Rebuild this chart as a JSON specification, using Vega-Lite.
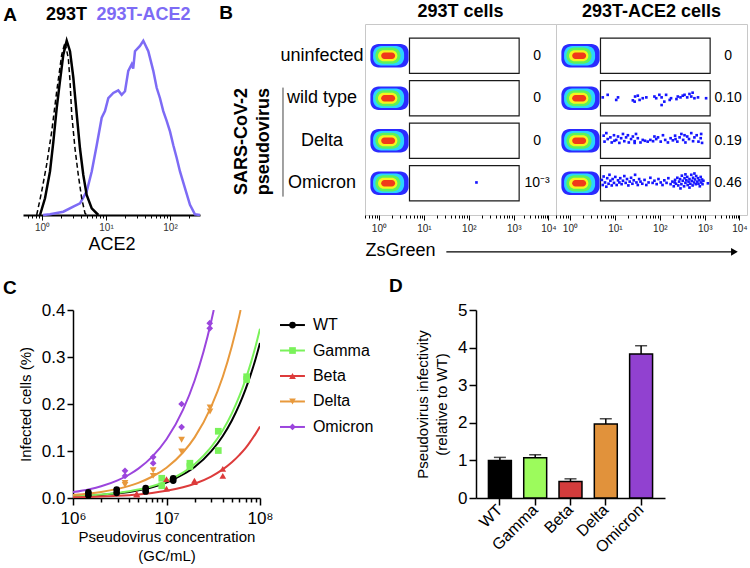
{
"$schema": "https://vega.github.io/schema/vega-lite/v6.json",
"padding": {"left": 3, "top": 2, "right": 2, "bottom": 2},
"config": {
  "font": "Liberation Sans",
  "view": {"stroke": null},
  "axis": {"grid": false, "labelFont": "Liberation Sans", "titleFont": "Liberation Sans", "labelColor": "#000", "titleColor": "#000", "domainColor": "#000", "tickColor": "#000", "titleFontWeight": "normal", "labelFlush": false, "labelOverlap": false},
  "title": {"font": "Liberation Sans", "fontWeight": "bold", "color": "#000", "fontSize": 19, "anchor": "start", "frame": "group", "baseline": "alphabetic"},
  "text": {"font": "Liberation Sans"}
},
"datasets": {
  "hist": [
    {"s":"p","u":0.016,"h":0},{"s":"p","u":0.125,"h":0.4},{"s":"p","u":0.333,"h":1.9},{"s":"p","u":0.489,"h":4.8},{"s":"p","u":0.594,"h":6.7},{"s":"p","u":0.698,"h":13.5},{"s":"p","u":0.777,"h":25},{"s":"p","u":0.855,"h":40},{"s":"p","u":0.933,"h":55.8},{"s":"p","u":0.984,"h":59.6},{"s":"p","u":1.036,"h":67},{"s":"p","u":1.114,"h":70},{"s":"p","u":1.192,"h":71.5},{"s":"p","u":1.245,"h":69},{"s":"p","u":1.297,"h":71},{"s":"p","u":1.348,"h":82.7},{"s":"p","u":1.402,"h":86.5},{"s":"p","u":1.425,"h":84},{"s":"p","u":1.453,"h":94},{"s":"p","u":1.531,"h":97},{"s":"p","u":1.583,"h":100},{"s":"p","u":1.661,"h":94},{"s":"p","u":1.739,"h":82.7},{"s":"p","u":1.792,"h":73},{"s":"p","u":1.844,"h":67},{"s":"p","u":1.895,"h":59.6},{"s":"p","u":1.948,"h":54},{"s":"p","u":2.0,"h":48},{"s":"p","u":2.052,"h":40},{"s":"p","u":2.105,"h":32.7},{"s":"p","u":2.156,"h":25},{"s":"p","u":2.234,"h":15.4},{"s":"p","u":2.3125,"h":5.8},{"s":"p","u":2.39,"h":0.4},{"s":"p","u":2.469,"h":0},
    {"s":"d","u":-0.083,"h":0},{"s":"d","u":-0.005,"h":13.5},{"s":"d","u":0.073,"h":29},{"s":"d","u":0.152,"h":48},{"s":"d","u":0.23,"h":71},{"s":"d","u":0.308,"h":92},{"s":"d","u":0.359,"h":99},{"s":"d","u":0.411,"h":90},{"s":"d","u":0.4375,"h":77},{"s":"d","u":0.464,"h":58},{"s":"d","u":0.516,"h":38},{"s":"d","u":0.567,"h":23},{"s":"d","u":0.62,"h":9.6},{"s":"d","u":0.672,"h":1},{"s":"d","u":0.7,"h":0},
    {"s":"k","u":-0.031,"h":0},{"s":"k","u":0.047,"h":9.6},{"s":"k","u":0.125,"h":25},{"s":"k","u":0.177,"h":42},{"s":"k","u":0.23,"h":61.5},{"s":"k","u":0.281,"h":77},{"s":"k","u":0.333,"h":92},{"s":"k","u":0.386,"h":100},{"s":"k","u":0.4375,"h":94},{"s":"k","u":0.489,"h":79},{"s":"k","u":0.542,"h":58},{"s":"k","u":0.594,"h":38},{"s":"k","u":0.645,"h":23},{"s":"k","u":0.698,"h":11.5},{"s":"k","u":0.777,"h":3.8},{"s":"k","u":0.88,"h":0}
  ],
  "blobs": [
    {"lv":1,"u1":-0.19,"u2":0.66,"y1":3.725,"y2":4.275},{"lv":2,"u1":-0.13,"u2":0.56,"y1":3.77,"y2":4.23},{"lv":3,"u1":-0.08,"u2":0.48,"y1":3.81,"y2":4.19},{"lv":4,"u1":-0.02,"u2":0.41,"y1":3.87,"y2":4.13},{"lv":5,"u1":0.05,"u2":0.36,"y1":3.925,"y2":4.075},
    {"lv":1,"u1":-0.19,"u2":0.66,"y1":2.725,"y2":3.275},{"lv":2,"u1":-0.13,"u2":0.56,"y1":2.77,"y2":3.23},{"lv":3,"u1":-0.08,"u2":0.48,"y1":2.81,"y2":3.19},{"lv":4,"u1":-0.02,"u2":0.41,"y1":2.87,"y2":3.13},{"lv":5,"u1":0.05,"u2":0.36,"y1":2.925,"y2":3.075},
    {"lv":1,"u1":-0.19,"u2":0.66,"y1":1.725,"y2":2.275},{"lv":2,"u1":-0.13,"u2":0.56,"y1":1.77,"y2":2.23},{"lv":3,"u1":-0.08,"u2":0.48,"y1":1.81,"y2":2.19},{"lv":4,"u1":-0.02,"u2":0.41,"y1":1.87,"y2":2.13},{"lv":5,"u1":0.05,"u2":0.36,"y1":1.925,"y2":2.075},
    {"lv":1,"u1":-0.19,"u2":0.66,"y1":0.725,"y2":1.275},{"lv":2,"u1":-0.13,"u2":0.56,"y1":0.77,"y2":1.23},{"lv":3,"u1":-0.08,"u2":0.48,"y1":0.81,"y2":1.19},{"lv":4,"u1":-0.02,"u2":0.41,"y1":0.87,"y2":1.13},{"lv":5,"u1":0.05,"u2":0.36,"y1":0.925,"y2":1.075}
  ],
  "gates": [
    {"gu1":0.68,"gu2":3.12,"g1":3.585,"g2":4.415},{"gu1":0.68,"gu2":3.12,"g1":2.585,"g2":3.415},{"gu1":0.68,"gu2":3.12,"g1":1.585,"g2":2.415},{"gu1":0.68,"gu2":3.12,"g1":0.585,"g2":1.415}
  ],
  "nums": [
    {"c":"L","r":4,"t":"0"},{"c":"L","r":3,"t":"0"},{"c":"L","r":2,"t":"0"},{"c":"L","r":1,"t":"10⁻³"},
    {"c":"R","r":4,"t":"0"},{"c":"R","r":3,"t":"0.10"},{"c":"R","r":2,"t":"0.19"},{"c":"R","r":1,"t":"0.46"}
  ],
  "dots": [
    {"c":"L","u":2.17,"y":1.02},
    {"c":"R","u":0.73,"y":3.02},{"c":"R","u":0.84,"y":3.08},{"c":"R","u":1.03,"y":2.96},{"c":"R","u":1.07,"y":3.02},{"c":"R","u":1.40,"y":2.95},{"c":"R","u":1.45,"y":3.04},{"c":"R","u":1.51,"y":3.06},{"c":"R","u":1.55,"y":2.96},{"c":"R","u":1.62,"y":3.0},{"c":"R","u":1.70,"y":3.02},{"c":"R","u":1.88,"y":3.04},{"c":"R","u":1.92,"y":3.0},{"c":"R","u":1.99,"y":3.08},{"c":"R","u":2.04,"y":3.02},{"c":"R","u":2.04,"y":2.84},{"c":"R","u":2.10,"y":2.92},{"c":"R","u":2.14,"y":3.08},{"c":"R","u":2.22,"y":2.96},{"c":"R","u":2.25,"y":3.0},{"c":"R","u":2.37,"y":2.98},{"c":"R","u":2.40,"y":3.04},{"c":"R","u":2.46,"y":3.02},{"c":"R","u":2.51,"y":3.06},{"c":"R","u":2.55,"y":3.08},{"c":"R","u":2.61,"y":3.02},{"c":"R","u":2.66,"y":3.1},{"c":"R","u":2.70,"y":3.04},{"c":"R","u":2.73,"y":3.13},{"c":"R","u":2.77,"y":3.0},{"c":"R","u":2.85,"y":3.02},{"c":"R","u":3.03,"y":3.0},{"c":"R","u":1.44,"y":2.92},
    {"c":"R","u":0.75,"y":2.12},{"c":"R","u":0.77,"y":1.98},{"c":"R","u":0.81,"y":2.18},{"c":"R","u":0.84,"y":2.04},{"c":"R","u":0.90,"y":2.08},{"c":"R","u":0.93,"y":1.96},{"c":"R","u":0.98,"y":2.13},{"c":"R","u":1.03,"y":2.02},{"c":"R","u":1.07,"y":2.10},{"c":"R","u":1.10,"y":1.95},{"c":"R","u":1.14,"y":2.06},{"c":"R","u":1.18,"y":2.16},{"c":"R","u":1.21,"y":1.99},{"c":"R","u":1.25,"y":2.08},{"c":"R","u":1.29,"y":2.13},{"c":"R","u":1.31,"y":1.96},{"c":"R","u":1.36,"y":2.04},{"c":"R","u":1.40,"y":2.10},{"c":"R","u":1.44,"y":1.99},{"c":"R","u":1.47,"y":2.16},{"c":"R","u":1.51,"y":2.06},{"c":"R","u":1.57,"y":1.96},{"c":"R","u":1.62,"y":2.02},{"c":"R","u":1.67,"y":2.0},{"c":"R","u":1.73,"y":1.98},{"c":"R","u":1.79,"y":2.02},{"c":"R","u":1.85,"y":1.99},{"c":"R","u":1.92,"y":2.04},{"c":"R","u":1.96,"y":2.08},{"c":"R","u":2.02,"y":1.98},{"c":"R","u":2.07,"y":2.13},{"c":"R","u":2.12,"y":2.02},{"c":"R","u":2.18,"y":1.96},{"c":"R","u":2.24,"y":2.06},{"c":"R","u":2.29,"y":2.01},{"c":"R","u":2.34,"y":2.12},{"c":"R","u":2.39,"y":1.98},{"c":"R","u":2.44,"y":2.08},{"c":"R","u":2.48,"y":2.16},{"c":"R","u":2.52,"y":2.02},{"c":"R","u":2.57,"y":1.96},{"c":"R","u":2.61,"y":2.10},{"c":"R","u":2.65,"y":2.04},{"c":"R","u":2.70,"y":2.18},{"c":"R","u":2.74,"y":1.99},{"c":"R","u":2.77,"y":2.08},{"c":"R","u":2.82,"y":2.13},{"c":"R","u":2.86,"y":1.98},{"c":"R","u":2.91,"y":2.06},{"c":"R","u":2.94,"y":1.95},{"c":"R","u":2.92,"y":2.16},{"c":"R","u":2.35,"y":2.04},{"c":"R","u":1.44,"y":1.95},{"c":"R","u":0.99,"y":2.0},{"c":"R","u":1.88,"y":2.10},{"c":"R","u":2.55,"y":2.13},
    {"c":"R","u":0.71,"y":1.08},{"c":"R","u":0.73,"y":0.96},{"c":"R","u":0.75,"y":1.16},{"c":"R","u":0.78,"y":1.02},{"c":"R","u":0.81,"y":0.92},{"c":"R","u":0.83,"y":1.12},{"c":"R","u":0.86,"y":0.99},{"c":"R","u":0.88,"y":1.20},{"c":"R","u":0.90,"y":1.06},{"c":"R","u":0.93,"y":0.95},{"c":"R","u":0.95,"y":1.10},{"c":"R","u":0.98,"y":1.01},{"c":"R","u":1.01,"y":1.15},{"c":"R","u":1.04,"y":0.96},{"c":"R","u":1.07,"y":1.07},{"c":"R","u":1.10,"y":1.02},{"c":"R","u":1.12,"y":1.12},{"c":"R","u":1.15,"y":0.98},{"c":"R","u":1.18,"y":1.06},{"c":"R","u":1.21,"y":1.17},{"c":"R","u":1.24,"y":1.01},{"c":"R","u":1.27,"y":1.10},{"c":"R","u":1.30,"y":0.95},{"c":"R","u":1.33,"y":1.04},{"c":"R","u":1.36,"y":1.13},{"c":"R","u":1.39,"y":0.99},{"c":"R","u":1.42,"y":1.07},{"c":"R","u":1.45,"y":1.20},{"c":"R","u":1.48,"y":1.02},{"c":"R","u":1.51,"y":0.96},{"c":"R","u":1.54,"y":1.10},{"c":"R","u":1.57,"y":1.04},{"c":"R","u":1.61,"y":0.99},{"c":"R","u":1.66,"y":1.08},{"c":"R","u":1.70,"y":0.96},{"c":"R","u":1.75,"y":1.02},{"c":"R","u":1.79,"y":1.13},{"c":"R","u":1.84,"y":1.01},{"c":"R","u":1.88,"y":1.06},{"c":"R","u":1.93,"y":0.98},{"c":"R","u":1.97,"y":1.10},{"c":"R","u":2.02,"y":1.02},{"c":"R","u":2.06,"y":0.96},{"c":"R","u":2.10,"y":1.07},{"c":"R","u":2.15,"y":1.01},{"c":"R","u":2.19,"y":1.12},{"c":"R","u":2.24,"y":0.98},{"c":"R","u":2.28,"y":1.04},{"c":"R","u":2.31,"y":0.93},{"c":"R","u":2.34,"y":1.08},{"c":"R","u":2.36,"y":0.99},{"c":"R","u":2.39,"y":1.13},{"c":"R","u":2.41,"y":0.95},{"c":"R","u":2.43,"y":1.04},{"c":"R","u":2.45,"y":1.10},{"c":"R","u":2.48,"y":0.98},{"c":"R","u":2.49,"y":1.18},{"c":"R","u":2.51,"y":1.06},{"c":"R","u":2.54,"y":0.93},{"c":"R","u":2.55,"y":1.12},{"c":"R","u":2.57,"y":1.01},{"c":"R","u":2.59,"y":1.07},{"c":"R","u":2.61,"y":1.15},{"c":"R","u":2.62,"y":0.96},{"c":"R","u":2.64,"y":1.04},{"c":"R","u":2.66,"y":1.10},{"c":"R","u":2.68,"y":0.99},{"c":"R","u":2.70,"y":1.20},{"c":"R","u":2.71,"y":1.06},{"c":"R","u":2.73,"y":0.95},{"c":"R","u":2.74,"y":1.13},{"c":"R","u":2.76,"y":1.02},{"c":"R","u":2.78,"y":1.09},{"c":"R","u":2.80,"y":0.98},{"c":"R","u":2.81,"y":1.17},{"c":"R","u":2.83,"y":1.04},{"c":"R","u":2.85,"y":1.12},{"c":"R","u":2.86,"y":0.99},{"c":"R","u":2.88,"y":1.07},{"c":"R","u":2.89,"y":0.93},{"c":"R","u":2.91,"y":1.15},{"c":"R","u":2.92,"y":1.02},{"c":"R","u":2.94,"y":1.09},{"c":"R","u":2.95,"y":0.98},{"c":"R","u":2.97,"y":1.06},{"c":"R","u":2.46,"y":0.88},{"c":"R","u":2.66,"y":0.90},{"c":"R","u":2.77,"y":1.23},{"c":"R","u":2.57,"y":1.21},{"c":"R","u":2.33,"y":1.02},{"c":"R","u":3.07,"y":1.0}
  ],
  "curves": [
    {"s":"WT","x":1000000,"y":0.0035},{"s":"WT","x":1500000,"y":0.005},{"s":"WT","x":2000000,"y":0.0066},{"s":"WT","x":3000000,"y":0.0099},{"s":"WT","x":4000000,"y":0.013},{"s":"WT","x":5000000,"y":0.0165},{"s":"WT","x":7000000,"y":0.023},{"s":"WT","x":10000000,"y":0.033},{"s":"WT","x":15000000,"y":0.05},{"s":"WT","x":20000000,"y":0.066},{"s":"WT","x":30000000,"y":0.099},{"s":"WT","x":40000000,"y":0.132},{"s":"WT","x":50000000,"y":0.165},{"s":"WT","x":60000000,"y":0.198},{"s":"WT","x":70000000,"y":0.231},{"s":"WT","x":80000000,"y":0.264},{"s":"WT","x":90000000,"y":0.297},{"s":"WT","x":100000000,"y":0.33},
    {"s":"Gamma","x":1000000,"y":0.0036},{"s":"Gamma","x":1500000,"y":0.0054},{"s":"Gamma","x":2000000,"y":0.0072},{"s":"Gamma","x":3000000,"y":0.0108},{"s":"Gamma","x":4000000,"y":0.0144},{"s":"Gamma","x":5000000,"y":0.018},{"s":"Gamma","x":7000000,"y":0.025},{"s":"Gamma","x":10000000,"y":0.036},{"s":"Gamma","x":15000000,"y":0.054},{"s":"Gamma","x":20000000,"y":0.072},{"s":"Gamma","x":30000000,"y":0.108},{"s":"Gamma","x":40000000,"y":0.144},{"s":"Gamma","x":50000000,"y":0.18},{"s":"Gamma","x":60000000,"y":0.216},{"s":"Gamma","x":70000000,"y":0.252},{"s":"Gamma","x":80000000,"y":0.288},{"s":"Gamma","x":90000000,"y":0.324},{"s":"Gamma","x":100000000,"y":0.36},
    {"s":"Beta","x":1000000,"y":0.0015},{"s":"Beta","x":1500000,"y":0.0023},{"s":"Beta","x":2000000,"y":0.003},{"s":"Beta","x":3000000,"y":0.0046},{"s":"Beta","x":4000000,"y":0.0061},{"s":"Beta","x":5000000,"y":0.0076},{"s":"Beta","x":7000000,"y":0.0106},{"s":"Beta","x":10000000,"y":0.0152},{"s":"Beta","x":15000000,"y":0.0228},{"s":"Beta","x":20000000,"y":0.0304},{"s":"Beta","x":30000000,"y":0.0456},{"s":"Beta","x":40000000,"y":0.0608},{"s":"Beta","x":50000000,"y":0.076},{"s":"Beta","x":60000000,"y":0.0912},{"s":"Beta","x":70000000,"y":0.106},{"s":"Beta","x":80000000,"y":0.122},{"s":"Beta","x":90000000,"y":0.137},{"s":"Beta","x":100000000,"y":0.152},
    {"s":"Delta","x":1000000,"y":0.0065},{"s":"Delta","x":1500000,"y":0.0097},{"s":"Delta","x":2000000,"y":0.0129},{"s":"Delta","x":3000000,"y":0.0194},{"s":"Delta","x":4000000,"y":0.0258},{"s":"Delta","x":5000000,"y":0.0323},{"s":"Delta","x":7000000,"y":0.0452},{"s":"Delta","x":10000000,"y":0.0645},{"s":"Delta","x":15000000,"y":0.0968},{"s":"Delta","x":20000000,"y":0.129},{"s":"Delta","x":30000000,"y":0.194},{"s":"Delta","x":40000000,"y":0.258},{"s":"Delta","x":50000000,"y":0.323},{"s":"Delta","x":60000000,"y":0.387},{"s":"Delta","x":62000000,"y":0.4},
    {"s":"Omicron","x":1000000,"y":0.0125},{"s":"Omicron","x":1500000,"y":0.0188},{"s":"Omicron","x":2000000,"y":0.025},{"s":"Omicron","x":3000000,"y":0.0375},{"s":"Omicron","x":4000000,"y":0.05},{"s":"Omicron","x":5000000,"y":0.0625},{"s":"Omicron","x":7000000,"y":0.0875},{"s":"Omicron","x":10000000,"y":0.125},{"s":"Omicron","x":15000000,"y":0.1875},{"s":"Omicron","x":20000000,"y":0.25},{"s":"Omicron","x":30000000,"y":0.375},{"s":"Omicron","x":32000000,"y":0.4}
  ],
  "pts": [
    {"s":"WT","x":1460000,"y":0.012},{"s":"WT","x":1460000,"y":0.006},{"s":"WT","x":2930000,"y":0.018},{"s":"WT","x":2930000,"y":0.011},{"s":"WT","x":5990000,"y":0.021},{"s":"WT","x":5990000,"y":0.014},{"s":"WT","x":11800000,"y":0.042},{"s":"WT","x":11800000,"y":0.037},
    {"s":"Gamma","x":8900000,"y":0.042},{"s":"Gamma","x":8900000,"y":0.026},{"s":"Gamma","x":17800000,"y":0.074},{"s":"Gamma","x":17800000,"y":0.067},{"s":"Gamma","x":35800000,"y":0.142},{"s":"Gamma","x":35800000,"y":0.101},{"s":"Gamma","x":72000000,"y":0.258},{"s":"Gamma","x":72000000,"y":0.252},
    {"s":"Beta","x":4800000,"y":0.009},{"s":"Beta","x":4800000,"y":0.007},{"s":"Beta","x":10000000,"y":0.04},{"s":"Beta","x":10000000,"y":0.02},{"s":"Beta","x":19900000,"y":0.037},{"s":"Beta","x":19900000,"y":0.034},{"s":"Beta","x":40000000,"y":0.062},{"s":"Beta","x":40000000,"y":0.047},
    {"s":"Delta","x":3600000,"y":0.032},{"s":"Delta","x":3600000,"y":0.028},{"s":"Delta","x":7200000,"y":0.059},{"s":"Delta","x":7200000,"y":0.047},{"s":"Delta","x":14500000,"y":0.124},{"s":"Delta","x":14500000,"y":0.099},{"s":"Delta","x":29200000,"y":0.193},{"s":"Delta","x":29200000,"y":0.184},
    {"s":"Omicron","x":3600000,"y":0.058},{"s":"Omicron","x":3600000,"y":0.047},{"s":"Omicron","x":7200000,"y":0.087},{"s":"Omicron","x":7200000,"y":0.074},{"s":"Omicron","x":14500000,"y":0.2},{"s":"Omicron","x":14500000,"y":0.151},{"s":"Omicron","x":29000000,"y":0.372},{"s":"Omicron","x":29000000,"y":0.361}
  ]
},
"spacing": 17,
"resolve": {"scale": {"color": "independent", "shape": "independent"}},
"vconcat": [
 {
  "spacing": 0,
  "bounds": "flush",
  "resolve": {"scale": {"color": "independent", "shape": "independent"}},
  "hconcat": [
   {
    "width": 177, "height": 191,
    "layer": [
     {"data": {"name": "hist"}, "transform": [{"filter": "datum.s === 'p'"}],
      "mark": {"type": "line", "color": "#7d6bf5", "strokeWidth": 2.5},
      "encoding": {
        "x": {"field": "u", "type": "quantitative", "scale": {"domain": [-0.297, 2.469], "nice": false, "zero": false},
              "axis": {"title": "ACE2", "titleFontSize": 18, "titlePadding": 3, "labelFontSize": 10, "labelColor": "#333", "labelPadding": 2, "domainWidth": 2, "labelOverlap": false, "tickCount": 200,
                       "values": [-0.222,-0.155,-0.097,-0.046,0,0.301,0.477,0.602,0.699,0.778,0.845,0.903,0.954,1,1.301,1.477,1.602,1.699,1.778,1.845,1.903,1.954,2,2.301],
                       "labelExpr": "datum.value===0?'10⁰':datum.value===1?'10¹':datum.value===2?'10²':''",
                       "tickSize": {"condition": {"test": "datum.value===0||datum.value===1||datum.value===2", "value": 5}, "value": 3}}},
        "y": {"field": "h", "type": "quantitative", "scale": {"domain": [0, 109.6], "nice": false}, "axis": null}
      }},
     {"data": {"name": "hist"}, "transform": [{"filter": "datum.s === 'd'"}],
      "mark": {"type": "line", "color": "#000", "strokeWidth": 1.5, "strokeDash": [5, 3]},
      "encoding": {"x": {"field": "u", "type": "quantitative"}, "y": {"field": "h", "type": "quantitative"}}},
     {"data": {"name": "hist"}, "transform": [{"filter": "datum.s === 'k'"}],
      "mark": {"type": "line", "color": "#000", "strokeWidth": 2.5},
      "encoding": {"x": {"field": "u", "type": "quantitative"}, "y": {"field": "h", "type": "quantitative"}}},
     {"data": {"values": [{"t": "293T", "u": 0.383, "h": 114.5, "g": "k"}, {"t": "293T-ACE2", "u": 1.586, "h": 114.5, "g": "p"}]},
      "mark": {"type": "text", "fontSize": 18, "fontWeight": "bold", "baseline": "middle", "align": "center"},
      "encoding": {"x": {"field": "u", "type": "quantitative"}, "y": {"field": "h", "type": "quantitative"}, "text": {"field": "t"},
                   "color": {"field": "g", "type": "nominal", "scale": {"domain": ["k", "p"], "range": ["#000000", "#7d6bf5"]}, "legend": null}}},
     {"data": {"values": [{"t": "A", "u": -0.5, "h": 114.5}]},
      "mark": {"type": "text", "fontSize": 19, "fontWeight": "bold", "baseline": "middle", "align": "center", "color": "#000"},
      "encoding": {"x": {"field": "u", "type": "quantitative"}, "y": {"field": "h", "type": "quantitative"}, "text": {"field": "t"}}}
    ]
   },
   {
    "width": 165, "height": 191,
    "layer": [
     {"data": {"values": [{"lab": "uninfected", "r": 4}, {"lab": "wild type", "r": 3}, {"lab": "Delta", "r": 2}, {"lab": "Omicron", "r": 1}]},
      "mark": {"type": "text", "fontSize": 18, "align": "center", "baseline": "middle"},
      "encoding": {"x": {"datum": 0.74, "type": "quantitative", "scale": {"domain": [0, 1], "nice": false}, "axis": null},
                   "y": {"field": "r", "type": "quantitative", "scale": {"domain": [0.255, 4.745], "nice": false, "zero": false}, "axis": null},
                   "text": {"field": "lab"}}},
     {"data": {"values": [{"r": 3.25, "r2": 0.687}]},
      "mark": {"type": "rule", "color": "#444", "strokeWidth": 1},
      "encoding": {"x": {"datum": 0.503, "type": "quantitative"}, "y": {"field": "r", "type": "quantitative"}, "y2": {"field": "r2"}}},
     {"data": {"values": [{"t": "SARS-CoV-2|pseudovirus", "r": 1.98}]},
      "mark": {"type": "text", "angle": 270, "fontSize": 18, "fontWeight": "bold", "lineBreak": "|", "lineHeight": 22, "align": "center", "baseline": "middle"},
      "encoding": {"x": {"datum": 0.255, "type": "quantitative"}, "y": {"field": "r", "type": "quantitative"}, "text": {"field": "t"}}},
     {"data": {"values": [{"t": "B", "r": 5.0}]},
      "mark": {"type": "text", "fontSize": 19, "fontWeight": "bold", "baseline": "middle", "align": "center", "color": "#000"},
      "encoding": {"x": {"datum": 0.158, "type": "quantitative"}, "y": {"field": "r", "type": "quantitative"}, "text": {"field": "t"}}}
    ]
   },
   {
    "width": 191, "height": 191,
    "view": {"stroke": "#c8c8c8", "strokeWidth": 1},
    "title": {"text": "293T cells", "anchor": "middle", "offset": 3, "fontSize": 18},
    "layer": [
     {"data": {"name": "blobs"}, "mark": {"type": "rect", "cornerRadius": 8},
      "encoding": {
        "x": {"field": "u1", "type": "quantitative", "scale": {"domain": [-0.31, 3.94], "nice": false, "zero": false},
              "axis": {"title": "ZsGreen", "titleFontSize": 18, "titleAnchor": "start", "titleAlign": "left", "titlePadding": 8, "domain": false, "labelOverlap": false, "tickCount": 200,
                       "labelFontSize": 10, "labelColor": "#222", "labelPadding": 3,
                       "values": [-0.301,-0.222,-0.155,-0.097,-0.046,0,0.301,0.477,0.602,0.699,0.778,0.845,0.903,0.954,1,1.301,1.477,1.602,1.699,1.778,1.845,1.903,1.954,2,2.301,2.477,2.602,2.699,2.778,2.845,2.903,2.954,3,3.232,3.367,3.464,3.538,3.599,3.651,3.695,3.735,3.77],
                       "labelExpr": "datum.value===0?'10⁰':datum.value===1?'10¹':datum.value===2?'10²':datum.value===3?'10³':datum.value===3.77?'10⁴':''",
                       "tickSize": {"condition": {"test": "datum.value===0||datum.value===1||datum.value===2||datum.value===3||datum.value===3.77", "value": 5}, "value": 3}}},
        "x2": {"field": "u2"},
        "y": {"field": "y1", "type": "quantitative", "scale": {"domain": [0.255, 4.745], "nice": false, "zero": false}, "axis": null},
        "y2": {"field": "y2"},
        "color": {"field": "lv", "type": "ordinal", "scale": {"domain": [1, 2, 3, 4, 5], "range": ["#2b2bff", "#2ad4ff", "#5cf25c", "#f5f51e", "#f03a1a"]}, "legend": null}
      }},
     {"data": {"name": "gates"}, "mark": {"type": "rect", "filled": false, "color": "#1a1a1a", "strokeWidth": 1.2},
      "encoding": {"x": {"field": "gu1", "type": "quantitative"}, "x2": {"field": "gu2"}, "y": {"field": "g1", "type": "quantitative"}, "y2": {"field": "g2"}}},
     {"data": {"name": "dots"}, "transform": [{"filter": "datum.c === 'L'"}],
      "mark": {"type": "square", "size": 7, "color": "#1515ff", "opacity": 1},
      "encoding": {"x": {"field": "u", "type": "quantitative"}, "y": {"field": "y", "type": "quantitative"}}},
     {"data": {"name": "nums"}, "transform": [{"filter": "datum.c === 'L'"}],
      "mark": {"type": "text", "fontSize": 14, "align": "center", "baseline": "middle"},
      "encoding": {"x": {"datum": 3.52, "type": "quantitative"}, "y": {"field": "r", "type": "quantitative"}, "text": {"field": "t"}}}
    ]
   },
   {
    "width": 191, "height": 191,
    "view": {"stroke": "#c8c8c8", "strokeWidth": 1},
    "title": {"text": "293T-ACE2 cells", "anchor": "middle", "offset": 3, "fontSize": 18},
    "layer": [
     {"data": {"name": "blobs"}, "mark": {"type": "rect", "cornerRadius": 8},
      "encoding": {
        "x": {"field": "u1", "type": "quantitative", "scale": {"domain": [-0.31, 3.94], "nice": false, "zero": false},
              "axis": {"title": null, "domain": false, "labelFontSize": 10, "labelColor": "#222", "labelPadding": 3, "labelOverlap": false, "tickCount": 200,
                       "values": [-0.301,-0.222,-0.155,-0.097,-0.046,0,0.301,0.477,0.602,0.699,0.778,0.845,0.903,0.954,1,1.301,1.477,1.602,1.699,1.778,1.845,1.903,1.954,2,2.301,2.477,2.602,2.699,2.778,2.845,2.903,2.954,3,3.232,3.367,3.464,3.538,3.599,3.651,3.695,3.735,3.77],
                       "labelExpr": "datum.value===0?'10⁰':datum.value===1?'10¹':datum.value===2?'10²':datum.value===3?'10³':datum.value===3.77?'10⁴':''",
                       "tickSize": {"condition": {"test": "datum.value===0||datum.value===1||datum.value===2||datum.value===3||datum.value===3.77", "value": 5}, "value": 3}}},
        "x2": {"field": "u2"},
        "y": {"field": "y1", "type": "quantitative", "scale": {"domain": [0.255, 4.745], "nice": false, "zero": false}, "axis": null},
        "y2": {"field": "y2"},
        "color": {"field": "lv", "type": "ordinal", "scale": {"domain": [1, 2, 3, 4, 5], "range": ["#2b2bff", "#2ad4ff", "#5cf25c", "#f5f51e", "#f03a1a"]}, "legend": null}
      }},
     {"data": {"name": "gates"}, "mark": {"type": "rect", "filled": false, "color": "#1a1a1a", "strokeWidth": 1.2},
      "encoding": {"x": {"field": "gu1", "type": "quantitative"}, "x2": {"field": "gu2"}, "y": {"field": "g1", "type": "quantitative"}, "y2": {"field": "g2"}}},
     {"data": {"name": "dots"}, "transform": [{"filter": "datum.c === 'R'"}],
      "mark": {"type": "square", "size": 7, "color": "#1515ff", "opacity": 1},
      "encoding": {"x": {"field": "u", "type": "quantitative"}, "y": {"field": "y", "type": "quantitative"}}},
     {"data": {"name": "nums"}, "transform": [{"filter": "datum.c === 'R'"}],
      "mark": {"type": "text", "fontSize": 14, "align": "center", "baseline": "middle"},
      "encoding": {"x": {"datum": 3.52, "type": "quantitative"}, "y": {"field": "r", "type": "quantitative"}, "text": {"field": "t"}}},
     {"data": {"values": [{"a": -2.75, "b": 3.62, "y": -0.61}]},
      "mark": {"type": "rule", "color": "#000", "strokeWidth": 1.2},
      "encoding": {"x": {"field": "a", "type": "quantitative"}, "x2": {"field": "b"}, "y": {"field": "y", "type": "quantitative"}}},
     {"data": {"values": [{"a": 3.66, "y": -0.61}]},
      "mark": {"type": "point", "shape": "triangle-right", "filled": true, "color": "#000", "size": 60, "opacity": 1},
      "encoding": {"x": {"field": "a", "type": "quantitative"}, "y": {"field": "y", "type": "quantitative"}}}
    ]
   }
  ]
 },
 {
  "spacing": 0,
  "bounds": "flush",
  "resolve": {"scale": {"color": "independent", "shape": "independent"}},
  "hconcat": [
   {
    "width": 50, "height": 10,
    "title": {"text": "C", "dx": -20, "offset": 11},
    "data": {"values": [{"t": ""}]},
    "mark": {"type": "text"},
    "encoding": {"text": {"field": "t"}}
   },
   {
    "width": 187, "height": 188,
    "layer": [
     {"data": {"name": "curves"}, "mark": {"type": "line", "strokeWidth": 2, "interpolate": "monotone", "clip": true},
      "encoding": {
        "x": {"field": "x", "type": "quantitative", "scale": {"type": "log", "domain": [1000000, 100000000], "nice": false},
              "axis": {"title": ["Pseudovirus concentration", "(GC/mL)"], "titleFontSize": 15, "titleLineHeight": 19, "titlePadding": 3, "labelOverlap": false, "tickCount": 200,
                       "labelFontSize": 17, "labelPadding": 5, "domainWidth": 1.5, "tickWidth": 1.5,
                       "values": [1000000,2000000,3000000,4000000,5000000,6000000,7000000,8000000,9000000,10000000,20000000,30000000,40000000,50000000,60000000,70000000,80000000,90000000,100000000],
                       "labelExpr": "datum.value===1000000?'10⁶':datum.value===10000000?'10⁷':datum.value===100000000?'10⁸':''",
                       "tickSize": {"condition": {"test": "datum.value===1000000||datum.value===10000000||datum.value===100000000", "value": 7}, "value": 4}}},
        "y": {"field": "y", "type": "quantitative", "scale": {"domain": [0, 0.4], "nice": false},
              "axis": {"title": "Infected cells (%)", "titleFontSize": 15, "titlePadding": 8, "values": [0, 0.1, 0.2, 0.3, 0.4], "format": ".1f", "labelOverlap": false, "tickCount": 200,
                       "labelFontSize": 17, "labelPadding": 2, "tickSize": 6, "domainWidth": 1.5, "tickWidth": 1.5}},
        "color": {"field": "s", "type": "nominal", "scale": {"domain": ["WT", "Gamma", "Beta", "Delta", "Omicron"], "range": ["#000000", "#7af25a", "#dd3b3b", "#e8993c", "#9b45dd"]}, "legend": null}
      }},
     {"data": {"name": "pts"}, "mark": {"type": "point", "filled": true, "size": 45, "opacity": 1},
      "encoding": {
        "x": {"field": "x", "type": "quantitative"},
        "y": {"field": "y", "type": "quantitative"},
        "color": {"field": "s", "type": "nominal", "legend": null},
        "shape": {"field": "s", "type": "nominal", "scale": {"domain": ["WT", "Gamma", "Beta", "Delta", "Omicron"], "range": ["circle", "square", "triangle-up", "triangle-down", "diamond"]}, "legend": null}
      }}
    ]
   },
   {
    "width": 216, "height": 132,
    "data": {"values": [{"s": "WT"}, {"s": "Gamma"}, {"s": "Beta"}, {"s": "Delta"}, {"s": "Omicron"}]},
    "layer": [
     {"mark": {"type": "rule", "strokeWidth": 2},
      "encoding": {
        "x": {"datum": 0.0926, "type": "quantitative", "scale": {"domain": [0, 1], "nice": false}, "axis": null},
        "x2": {"datum": 0.208},
        "y": {"field": "s", "type": "nominal", "scale": {"type": "point", "padding": 0.59, "domain": ["WT", "Gamma", "Beta", "Delta", "Omicron"]}, "axis": null},
        "color": {"field": "s", "type": "nominal", "scale": {"domain": ["WT", "Gamma", "Beta", "Delta", "Omicron"], "range": ["#000000", "#7af25a", "#dd3b3b", "#e8993c", "#9b45dd"]}, "legend": null}
      }},
     {"mark": {"type": "point", "filled": true, "size": 45, "opacity": 1},
      "encoding": {
        "x": {"datum": 0.1505, "type": "quantitative"},
        "y": {"field": "s", "type": "nominal"},
        "color": {"field": "s", "type": "nominal", "legend": null},
        "shape": {"field": "s", "type": "nominal", "scale": {"domain": ["WT", "Gamma", "Beta", "Delta", "Omicron"], "range": ["circle", "square", "triangle-up", "triangle-down", "diamond"]}, "legend": null}
      }},
     {"mark": {"type": "text", "fontSize": 16, "align": "left", "baseline": "middle"},
      "encoding": {"x": {"datum": 0.245, "type": "quantitative"}, "y": {"field": "s", "type": "nominal"}, "text": {"field": "s"}}}
    ]
   },
   {
    "width": 189, "height": 188,
    "title": {"text": "D", "dx": -87, "offset": 5},
    "data": {"values": [{"s": "WT", "m": 1.0, "e": 1.08}, {"s": "Gamma", "m": 1.07, "e": 1.15}, {"s": "Beta", "m": 0.44, "e": 0.51}, {"s": "Delta", "m": 1.97, "e": 2.11}, {"s": "Omicron", "m": 3.83, "e": 4.05}]},
    "layer": [
     {"mark": {"type": "rule", "color": "#000", "strokeWidth": 1.5},
      "encoding": {
        "x": {"field": "s", "type": "nominal", "sort": null, "scale": {"paddingInner": 0.35, "paddingOuter": 0.352},
              "axis": {"title": null, "labelAngle": -45, "labelAlign": "right", "labelBaseline": "middle", "labelFontSize": 16, "labelPadding": 2, "tickSize": 7, "tickWidth": 1.5, "domainWidth": 1.5, "labelOverlap": false}},
        "y": {"field": "m", "type": "quantitative", "scale": {"domain": [0, 5], "nice": false},
              "axis": {"title": ["Pseudovirus infectivity", "(relative to  WT)"], "titleFontSize": 15, "titleLineHeight": 19, "titlePadding": 8, "values": [0, 1, 2, 3, 4, 5], "format": "d", "tickCount": 200, "labelOverlap": false, "labelFontSize": 17, "labelPadding": 2, "tickSize": 7, "tickWidth": 1.5, "domainWidth": 1.5}},
        "y2": {"field": "e"}
      }},
     {"mark": {"type": "tick", "color": "#000", "thickness": 1.5, "size": 12},
      "encoding": {"x": {"field": "s", "type": "nominal", "sort": null}, "y": {"field": "e", "type": "quantitative"}}},
     {"mark": {"type": "bar", "stroke": "#000", "strokeWidth": 1.5},
      "encoding": {
        "x": {"field": "s", "type": "nominal", "sort": null},
        "y": {"field": "m", "type": "quantitative"},
        "color": {"field": "s", "type": "nominal", "scale": {"domain": ["WT", "Gamma", "Beta", "Delta", "Omicron"], "range": ["#000000", "#9cfb5c", "#d23c3c", "#e1923b", "#9141d0"]}, "legend": null}
      }}
    ]
   }
  ]
 }
]
}
